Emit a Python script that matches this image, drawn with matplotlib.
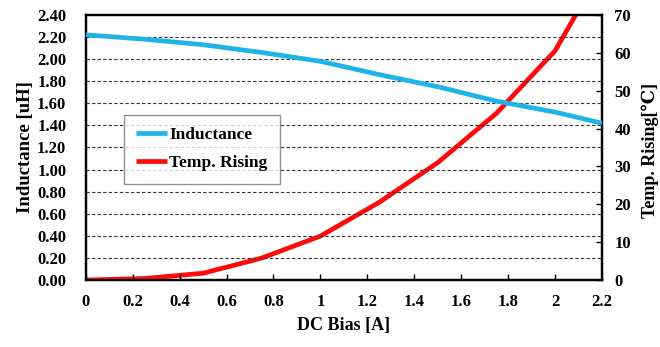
import numpy as np
import matplotlib.pyplot as plt

# ============================================================
# DATA
# ============================================================
dc_bias = [0.0, 0.25, 0.5, 0.75, 1.0, 1.25, 1.5, 1.75, 2.0, 2.2]
inductance = [2.22, 2.18, 2.13, 2.06, 1.98, 1.86, 1.75, 1.62, 1.52, 1.42]
temp_rising = [0.0, 0.4, 1.8, 5.8, 11.6, 20.5, 31.0, 44.0, 60.5, 82.0]

left_ticks = [0.0, 0.2, 0.4, 0.6, 0.8, 1.0, 1.2, 1.4, 1.6, 1.8, 2.0, 2.2, 2.4]
right_ticks = [0, 10, 20, 30, 40, 50, 60, 70]
x_ticks = [0, 0.2, 0.4, 0.6, 0.8, 1, 1.2, 1.4, 1.6, 1.8, 2, 2.2]
x_tick_labels = ["0", "0.2", "0.4", "0.6", "0.8", "1", "1.2", "1.4", "1.6", "1.8", "2", "2.2"]

BLUE = "#1eb4e8"
RED = "#ff0a0a"
SERIF = ["Liberation Serif", "DejaVu Serif"]

plt.rcParams.update({
    "font.family": SERIF,
    "font.weight": "bold",
    "font.size": 12,
    "axes.linewidth": 1.6,
})

fig = plt.figure(figsize=(6.6, 3.47), dpi=100)
ax = fig.add_axes([0.130, 0.193, 0.782, 0.764])
ax2 = ax.twinx()

# grid (dashed, at every inductance tick)
for v in left_ticks[1:-1]:
    ax.axhline(v, color="#333333", linestyle=(0, (3, 2)), linewidth=0.8, zorder=1)

ax.plot(dc_bias, inductance, color=BLUE, linewidth=3.4, solid_capstyle="butt",
        label="Inductance", zorder=3)
ax2.plot(dc_bias, temp_rising, color=RED, linewidth=3.4, solid_capstyle="butt",
         label="Temp. Rising", zorder=3)

ax.set_xlim(0, 2.2)
ax.set_ylim(0, 2.4)
ax2.set_ylim(0, 70)

ax.set_xticks(x_ticks)
ax.set_xticklabels(x_tick_labels)
ax.set_yticks(left_ticks)
ax.set_yticklabels([f"{v:.2f}" for v in left_ticks])
ax2.set_yticks(right_ticks)

ax.tick_params(axis="x", direction="in", length=4, width=1, pad=10, labelsize=12)
ax.tick_params(axis="y", direction="in", length=0, pad=14, labelsize=12)
ax2.tick_params(axis="y", direction="in", length=4, width=1, pad=9, labelsize=12)

ax.set_xlabel("DC Bias [A]", fontsize=13, fontweight="bold", labelpad=5)
ax.set_ylabel("Inductance [uH]", fontsize=13.5, fontweight="bold", labelpad=2)
fig.text(650 / 660, 1 - 150 / 347, "Temp. Rising[\u2103]", rotation=90,
         ha="center", va="center", fontsize=13, fontweight="bold", family=SERIF)

h1, l1 = ax.get_legend_handles_labels()
h2, l2 = ax2.get_legend_handles_labels()
leg = ax.legend(h1 + h2, l1 + l2, loc="upper left", bbox_to_anchor=(0.074, 0.623),
                borderaxespad=0, fontsize=12.5, frameon=True, fancybox=False,
                edgecolor="#777777", handlelength=1.8, handletextpad=0.1,
                borderpad=0.7, labelspacing=0.7)
leg.get_frame().set_linewidth(1.0)
ax.set_zorder(ax2.get_zorder() + 1)
ax.patch.set_visible(False)
ax2.patch.set_visible(True)

fig.savefig("out.png", dpi=100, facecolor="white")
